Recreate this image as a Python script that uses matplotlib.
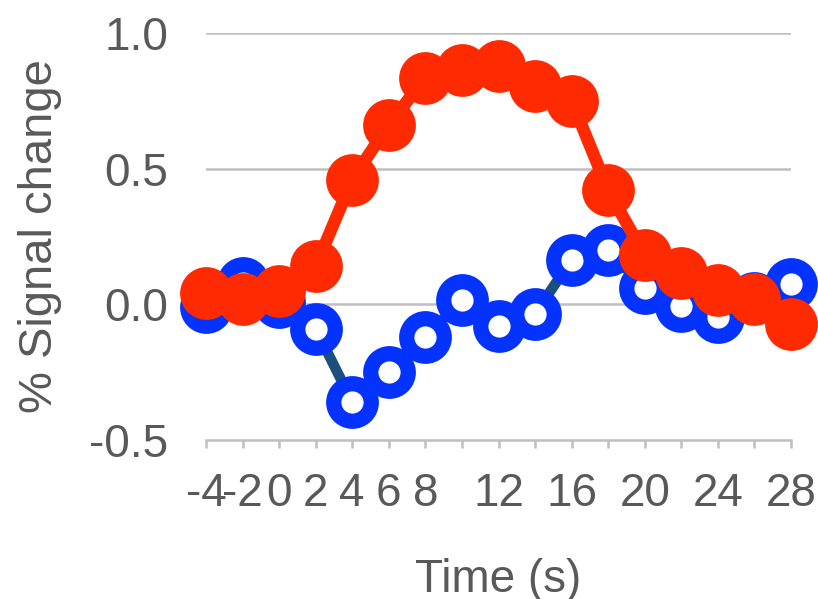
import matplotlib
matplotlib.use("Agg")
import matplotlib.pyplot as plt

# time points (s) and mean % signal change for the two conditions
times = [-4, -2, 0, 2, 4, 6, 8, 10, 12, 14, 16, 18, 20, 22, 24, 26, 28]
blue_vals = [-0.01, 0.08, 0.01, -0.09, -0.36, -0.25, -0.12, 0.015, -0.08,
             -0.035, 0.165, 0.20, 0.06, -0.005, -0.045, 0.025, 0.075]
red_vals = [0.04, 0.02, 0.05, 0.14, 0.46, 0.662, 0.835, 0.862, 0.877,
            0.804, 0.751, 0.42, 0.18, 0.114, 0.054, 0.018, -0.072]
x_labels = ["-4", "-2", "0", "2", "4", "6", "8", "", "12", "", "16", "",
            "20", "", "24", "", "28"]
y_ticks = [-0.5, 0.0, 0.5, 1.0]

plt.rcParams["font.family"] = ["Liberation Sans", "DejaVu Sans"]
plt.rcParams["axes.unicode_minus"] = False

txt = "#595959"
grid_c = "#bfbfbf"
fs = 33

fig = plt.figure(figsize=(8.18, 5.99), dpi=100)
ax = fig.add_axes([206 / 818, 159 / 599, 585 / 818, 407 / 599])

idx = list(range(len(times)))

# blue: hollow ring markers, dark line underneath
ax.plot(idx, blue_vals, color="#1b4f7e", linewidth=7.5, zorder=3,
        clip_on=False)
ax.plot(idx, blue_vals, linestyle="none", marker="o", markersize=27,
        markerfacecolor="white", markeredgecolor="#0433ff",
        markeredgewidth=11, zorder=4, clip_on=False)

# red: filled markers and thick line
ax.plot(idx, red_vals, color="#ff2a00", linewidth=9, zorder=5,
        marker="o", markersize=38, markerfacecolor="#ff2a00",
        markeredgewidth=0, clip_on=False)

ax.set_xlim(0, len(times) - 1)
ax.set_ylim(-0.5, 1.0)
ax.set_yticks(y_ticks)
ax.set_yticklabels([f"{v:.1f}" for v in y_ticks])
ax.set_xticks(idx)
ax.set_xticklabels(x_labels)

for v in y_ticks[1:]:
    ax.axhline(v, color=grid_c, linewidth=1.8, zorder=1)

for s in ["top", "right", "left"]:
    ax.spines[s].set_visible(False)
ax.spines["bottom"].set_color(grid_c)
ax.spines["bottom"].set_linewidth(1.8)

ax.tick_params(axis="y", length=0, pad=27, labelsize=fs, labelcolor=txt)
ax.tick_params(axis="x", length=6, width=1.8, color=grid_c, pad=17,
               labelsize=fs, labelcolor=txt)

ax.set_xlabel("Time (s)", fontsize=fs, color=txt, labelpad=30)
ax.set_ylabel("% Signal change", fontsize=34, color=txt, labelpad=20)

fig.savefig("out.png", dpi=100)
